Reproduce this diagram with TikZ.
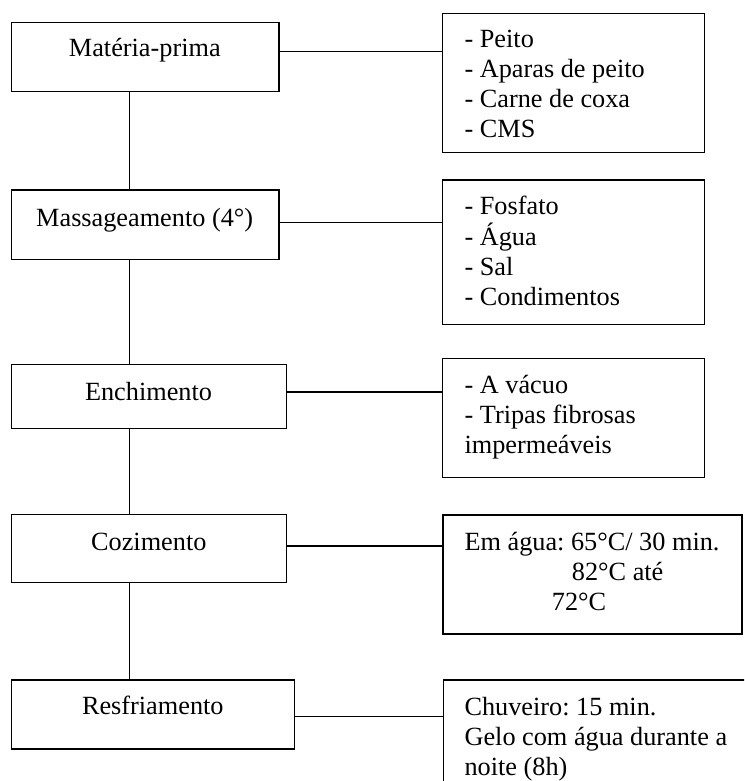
\documentclass[tikz,border=0pt]{standalone}
\usepackage{fontspec}
\setmainfont{Liberation Serif}
\begin{document}
\frenchspacing
\begin{tikzpicture}[x=0.75pt,y=-0.75pt,
  stepbox/.style={draw=black,line width=1.1pt,rectangle,inner sep=0pt},
  lbl/.style={inner sep=0pt,anchor=base,font=\fontsize{19.7}{22.5}\selectfont\frenchspacing},
  lst/.style={inner sep=0pt,anchor=base west,font=\fontsize{19.7}{22.5}\selectfont\frenchspacing},
  conn/.style={draw=black,line width=1.1pt}]
\clip (0,0) rectangle (744,781);
\fill[white] (0,0) rectangle (744,781);
% left boxes
\node[stepbox,minimum width=200.5pt,minimum height=51.45pt] (b1) at (145.35,57) {};
\node[stepbox,minimum width=200.5pt,minimum height=52pt] (b2) at (145.35,224.65) {};
\node[stepbox,minimum width=206.25pt,minimum height=48.3pt] (b3) at (149.2,396.5) {};
\node[stepbox,minimum width=206.25pt,minimum height=51pt] (b4) at (149.2,548.7) {};
\node[stepbox,minimum width=212.25pt,minimum height=51.75pt] (b5) at (153.2,714.5) {};
% right boxes
\node[stepbox,minimum width=196.5pt,minimum height=104.55pt] (r1) at (573.7,83) {};
\node[stepbox,minimum width=196.2pt,minimum height=108.2pt] (r2) at (573.5,252.15) {};
\node[stepbox,minimum width=196.5pt,minimum height=89.55pt] (r3) at (573.7,418) {};
\node[stepbox,minimum width=224.25pt,minimum height=89.25pt] (r4) at (592.5,574.5) {};
\node[stepbox,minimum width=237.5pt,minimum height=90pt] (r5) at (601.65,740) {};
% labels
\node[lbl] (t1) at (144.8,56.7) {Matéria-prima};
\node[lbl] (t2) at (144.7,226) {Massageamento (4°)};
\node[lbl] (t3) at (148.5,400) {Enchimento};
\node[lbl] (t4) at (148.8,550) {Cozimento};
\node[lbl] (t5) at (152.8,714) {Resfriamento};
\node[lst] (l1) at (464.3,47.7) {\begin{tabular}[t]{@{}l@{}}- Peito\\- Aparas de peito\\- Carne de coxa\\- CMS\end{tabular}};
\node[lst] (l2) at (464.3,214.3) {\begin{tabular}[t]{@{}l@{}}- Fosfato\\- Água\\- Sal\\- Condimentos\end{tabular}};
\node[lst] (l3) at (464.3,393.3) {\begin{tabular}[t]{@{}l@{}}- A vácuo\\- Tripas fibrosas\\impermeáveis\end{tabular}};
\node[lst] (l4) at (464.3,550) {\begin{tabular}[t]{@{}l@{}}Em água: 65°C/ 30 min.\\\hspace*{80.5pt}82°C até\\\hspace*{65.5pt}72°C\end{tabular}};
\node[lst] (l5) at (464.3,715) {\begin{tabular}[t]{@{}l@{}}Chuveiro: 15 min.\\Gelo com água durante a\\noite (8h)\end{tabular}};
% trunk
\coordinate (trunk) at (129.3,0);
\draw[conn] (b1.south -| trunk) -- (b2.north -| trunk);
\draw[conn] (b2.south -| trunk) -- (b3.north -| trunk);
\draw[conn] (b3.south -| trunk) -- (b4.north -| trunk);
\draw[conn] (b4.south -| trunk) -- (b5.north -| trunk);
% side connectors
\draw[conn] (b1.east |- 0,51.7) -- (r1.west |- 0,51.7);
\draw[conn] (b2.east |- 0,222.7) -- (r2.west |- 0,222.7);
\draw[conn] (b3.east |- 0,392) -- (r3.west |- 0,392);
\draw[conn] (b4.east |- 0,546) -- (r4.west |- 0,546);
\draw[conn] (b5.east |- 0,716.7) -- (r5.west |- 0,716.7);
\end{tikzpicture}
\end{document}
